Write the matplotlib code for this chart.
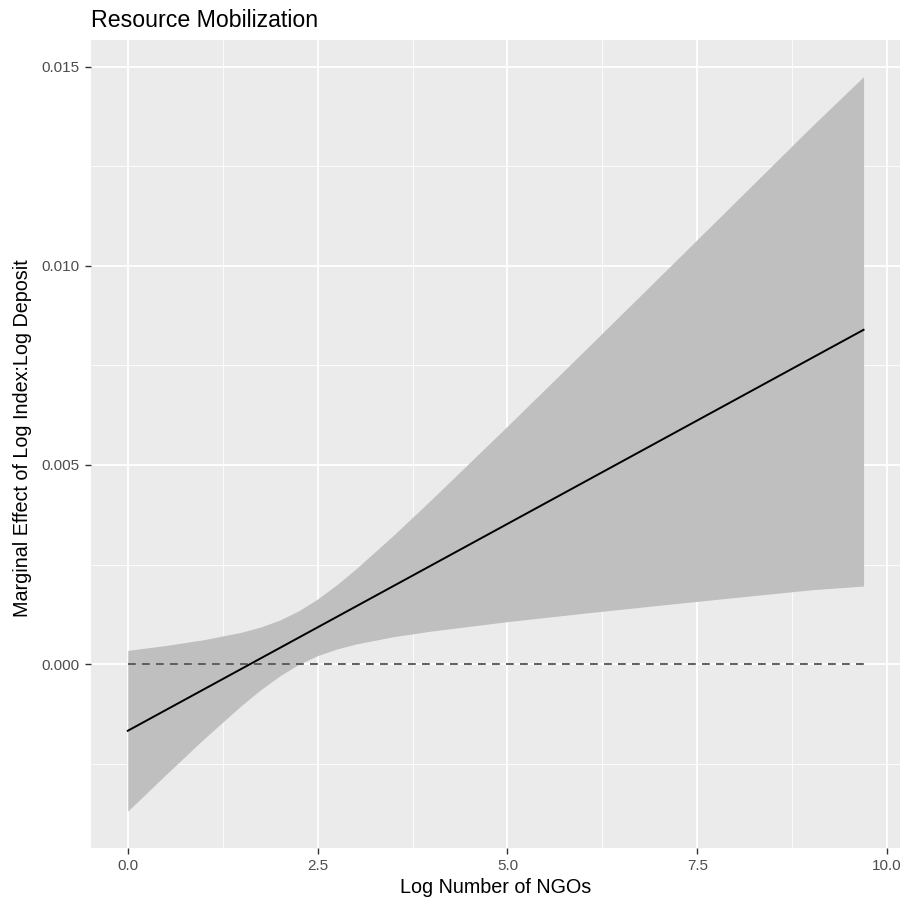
import numpy as np
import matplotlib.pyplot as plt
from matplotlib.ticker import MultipleLocator

# values
log_ngos = [0.0, 0.5, 1.0, 1.5, 1.75, 2.0, 2.25, 2.5, 2.75, 3.0, 3.5, 4.0, 5.0, 6.0, 7.0, 8.0, 9.0, 9.69]
ci_upper = [0.000343, 0.000466, 0.000611, 0.000800, 0.000931, 0.001104, 0.001336, 0.001634, 0.001988,
            0.002382, 0.003236, 0.004133, 0.005975, 0.007842, 0.009720, 0.011602, 0.013487, 0.014750]
ci_lower = [-0.003693, -0.002778, -0.001883, -0.001034, -0.000645, -0.000298, -0.000010, 0.000212, 0.000376,
            0.000502, 0.000688, 0.000829, 0.001065, 0.001276, 0.001476, 0.001672, 0.001865, 0.001960]
line_x = [0.0, 9.69]
marginal_effect = [-0.001675, 0.008393]
zero_x = [0.0, 9.69]
zero_y = [0.0, 0.0]

plt.rcParams['font.family'] = ['Liberation Sans', 'DejaVu Sans']

fig = plt.figure(figsize=(9.04, 9.01), dpi=100)
ax = fig.add_axes([91 / 904, 1 - 847.5 / 901, (900 - 91) / 904, (847.5 - 40) / 901])
ax.set_facecolor('#EBEBEB')
for s in ax.spines.values():
    s.set_visible(False)

ax.fill_between(log_ngos, ci_lower, ci_upper, color='#BFBFBF', linewidth=0, zorder=2)
ax.plot(zero_x, zero_y, color='#5E5E5E', linestyle=(0, (4, 3.2)), linewidth=1.4, zorder=3)
ax.plot(line_x, marginal_effect, color='black', linewidth=1.4, zorder=4)

ax.set_xlim(-0.4845, 10.17)
ax.set_ylim(-0.004606, 0.01567)
ax.xaxis.set_minor_locator(MultipleLocator(1.25))
ax.yaxis.set_minor_locator(MultipleLocator(0.0025))
ax.set_xticks([0, 2.5, 5, 7.5, 10])
ax.set_xticklabels(['0.0', '2.5', '5.0', '7.5', '10.0'])
ax.set_yticks([0, 0.005, 0.01, 0.015])
ax.set_yticklabels(['0.000', '0.005', '0.010', '0.015'])

ax.grid(which='major', color='white', linewidth=1.3, zorder=1)
ax.grid(which='minor', color='white', linewidth=0.6, zorder=1)
ax.set_axisbelow(True)
ax.tick_params(which='major', length=4.5, width=1.0, color='#333333',
               labelsize=11, labelcolor='#4D4D4D', pad=4)
ax.tick_params(which='minor', length=0)

fig.text(495.5 / 904, 1 - 893 / 901, 'Log Number of NGOs', fontsize=14.2, ha='center', va='baseline')
fig.text(23 / 904, 1 - 438 / 901, 'Marginal Effect of Log Index:Log Deposit', fontsize=14.2,
         rotation=90, ha='center', va='center')
fig.text(91 / 904, 1 - 27 / 901, 'Resource Mobilization', fontsize=16.7, ha='left', va='baseline')

fig.savefig('out.png', dpi=100)
